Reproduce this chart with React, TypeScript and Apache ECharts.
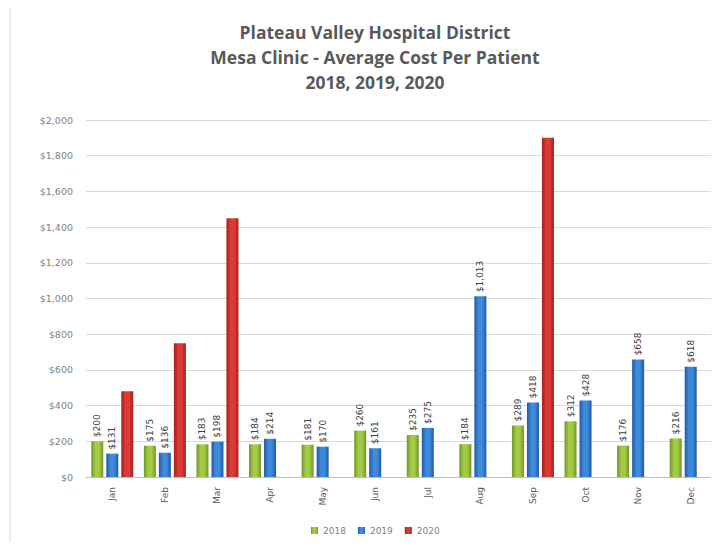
import React, { useEffect, useRef } from "react";
import * as echarts from "echarts";

const months = ["Jan", "Feb", "Mar", "Apr", "May", "Jun", "Jul", "Aug", "Sep", "Oct", "Nov", "Dec"];
const cost2018 = [200, 175, 183, 184, 181, 260, 235, 184, 289, 312, 176, 216];
const cost2019 = [131, 136, 198, 214, 170, 161, 275, 1013, 418, 428, 658, 618];
const cost2020 = [480, 750, 1450, null, null, null, null, null, 1900, null, null, null];
const yTicks = { min: 0, max: 2000, interval: 200 };
const titleLines = [
  "Plateau Valley Hospital District",
  "Mesa Clinic - Average Cost Per Patient",
  "2018, 2019, 2020",
];

const fmt = (v: number) => "$" + v.toLocaleString("en-US");

const grad = (edge: string, mid: string) =>
  new echarts.graphic.LinearGradient(0, 0, 1, 0, [
    { offset: 0, color: edge },
    { offset: 0.35, color: mid },
    { offset: 0.65, color: mid },
    { offset: 1, color: edge },
  ]);

export default function App() {
  const ref = useRef<HTMLDivElement>(null);
  useEffect(() => {
    if (!ref.current) return;
    const chart = echarts.init(ref.current, null, { renderer: "svg" });
    const labelCfg = {
      show: true,
      position: "top",
      rotate: 90,
      align: "left",
      verticalAlign: "middle",
      distance: 4,
      fontSize: 9,
      fontFamily: "DejaVu Sans",
      color: "#404040",
      formatter: (p: any) => fmt(p.value),
    };
    chart.setOption({
      animation: false,
      backgroundColor: "#ffffff",
      title: {
        text: titleLines.join("\n"),
        left: 370,
        top: 14,
        textAlign: "center",
        textStyle: {
          fontFamily: "Open Sans",
          fontWeight: "bold",
          fontSize: 17.5,
          lineHeight: 25,
          color: "#595959",
        },
      },
      graphic: [
        {
          type: "rect",
          shape: { x: 10, y: 5, width: 707, height: 543 },
          style: { fill: "none", stroke: "#d9d9d9", lineWidth: 1 },
          silent: true,
          z: -10,
        },
      ],
      legend: {
        bottom: 10,
        left: 306,
        itemWidth: 7,
        itemHeight: 7,
        itemGap: 12,
        icon: "rect",
        textStyle: { fontSize: 9, fontFamily: "DejaVu Sans", color: "#7f7f7f" },
        data: ["2018", "2019", "2020"],
      },
      grid: { left: 86, right: 2, top: 120, bottom: 73 },
      xAxis: {
        type: "category",
        data: months,
        axisLine: { lineStyle: { color: "#bfbfbf" } },
        axisTick: { show: false },
        axisLabel: {
          rotate: 90,
          margin: 10,
          fontSize: 9,
          fontFamily: "DejaVu Sans",
          color: "#595959",
          interval: 0,
        },
      },
      yAxis: {
        type: "value",
        min: yTicks.min,
        max: yTicks.max,
        interval: yTicks.interval,
        axisLine: { show: false },
        axisTick: { show: false },
        splitLine: { lineStyle: { color: "#d9d9d9" } },
        axisLabel: {
          margin: 13,
          fontSize: 9.5,
          fontFamily: "DejaVu Sans",
          color: "#7f7f7f",
          formatter: (v: number) => fmt(v),
        },
      },
      series: [
        {
          name: "2018",
          type: "bar",
          data: cost2018,
          barWidth: 12,
          barGap: "25%",
          itemStyle: { color: grad("#6f9623", "#a3cb45") },
          label: labelCfg,
        },
        {
          name: "2019",
          type: "bar",
          data: cost2019,
          barWidth: 12,
          barGap: "25%",
          itemStyle: { color: grad("#1d5aa6", "#3f8ad9") },
          label: labelCfg,
        },
        {
          name: "2020",
          type: "bar",
          data: cost2020,
          barWidth: 12,
          barGap: "25%",
          itemStyle: { color: grad("#a51f1f", "#dc3b36") },
        },
      ],
    });
    return () => chart.dispose();
  }, []);
  return <div ref={ref} style={{ width: 719, height: 550, margin: -8 }} />;
}
